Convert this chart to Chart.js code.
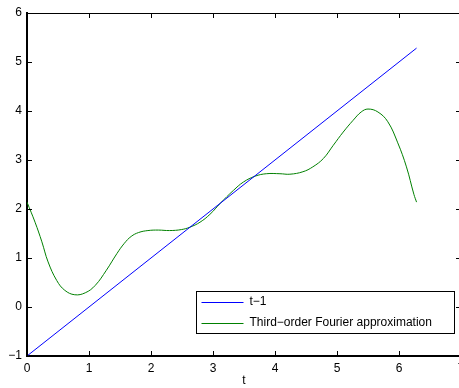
<!DOCTYPE html>
<html>
<head>
<meta charset="utf-8">
<script src="https://cdn.jsdelivr.net/npm/chart.js@4"></script>
<style>
  html, body { margin: 0; padding: 0; background: #fff; overflow: hidden; }
</style>
</head>
<body>
<canvas id="myChart" width="470" height="388"></canvas>
<script>
// data
const lineT = [0, 6.2832];
const lineY = [-1, 5.2832];

const fourierT = [0, 0.13, 0.24, 0.34, 0.48, 0.61, 0.77, 0.94, 1.10, 1.28, 1.45, 1.57, 1.68, 1.80, 1.95, 2.12, 2.30, 2.49, 2.63, 2.79,
  2.95, 3.12, 3.33, 3.49, 3.68, 3.86, 4.08, 4.24, 4.45, 4.61, 4.78, 4.94, 5.10, 5.26, 5.39, 5.50, 5.66, 5.82, 5.98, 6.12, 6.24, 6.2832];
const fourierY = [2.14, 1.73, 1.33, 0.92, 0.54, 0.34, 0.25, 0.29, 0.44, 0.75, 1.09, 1.30, 1.44, 1.52, 1.56, 1.57, 1.56, 1.58, 1.63, 1.73,
  1.89, 2.12, 2.38, 2.55, 2.67, 2.72, 2.72, 2.71, 2.76, 2.86, 3.03, 3.30, 3.57, 3.81, 3.98, 4.04, 3.98, 3.78, 3.35, 2.86, 2.30, 2.14];

const xTicks = [0, 1, 2, 3, 4, 5, 6, 7];
const yTicks = [-1, 0, 1, 2, 3, 4, 5, 6];

const seriesNames = ['t\u22121', 'Third\u2212order Fourier approximation'];
const seriesColors = ['#0000ff', '#008000'];

const toPoints = (xs, ys) => xs.map((v, i) => ({ x: v, y: ys[i] }));

const tickFont = { family: "'Liberation Sans', Arial, sans-serif", size: 12 };

// inward tick marks on all four sides, the box, and the legend inside the plot
const frameAndLegend = {
  id: 'frameAndLegend',
  afterDraw(chart) {
    const { ctx, chartArea: a, scales: { x, y } } = chart;
    ctx.save();
    ctx.strokeStyle = '#000';
    ctx.lineWidth = 1;
    ctx.beginPath();
    x.ticks.forEach(t => {
      const px = Math.round(x.getPixelForValue(t.value)) + 0.5;
      ctx.moveTo(px, a.bottom); ctx.lineTo(px, a.bottom - 5);
      ctx.moveTo(px, a.top); ctx.lineTo(px, a.top + 5);
    });
    y.ticks.forEach(t => {
      const py = Math.round(y.getPixelForValue(t.value)) + 0.5;
      ctx.moveTo(a.left, py); ctx.lineTo(a.left + 5, py);
      ctx.moveTo(a.right, py); ctx.lineTo(a.right - 5, py);
    });
    ctx.moveTo(a.left, a.top + 0.5); ctx.lineTo(a.right, a.top + 0.5);
    ctx.moveTo(a.right - 0.5, a.top); ctx.lineTo(a.right - 0.5, a.bottom);
    ctx.stroke();

    // legend box
    const bx = 196.5, by = 291.5, bw = 258, bh = 42;
    ctx.fillStyle = '#fff';
    ctx.fillRect(bx, by, bw, bh);
    ctx.strokeRect(bx, by, bw, bh);
    ctx.font = "12px 'Liberation Sans', Arial, sans-serif";
    ctx.textBaseline = 'middle';
    chart.data.datasets.forEach((ds, i) => {
      const cy = by + 10.5 + i * 21;
      ctx.strokeStyle = ds.borderColor;
      ctx.lineWidth = 1;
      ctx.beginPath();
      ctx.moveTo(bx + 5, Math.round(cy) + 0.5);
      ctx.lineTo(bx + 47, Math.round(cy) + 0.5);
      ctx.stroke();
      ctx.fillStyle = '#000';
      ctx.fillText(ds.label, bx + 53, cy);
    });
    ctx.restore();
  }
};

const config = {
  type: 'scatter',
  data: {
    datasets: [
      {
        label: seriesNames[0],
        data: toPoints(lineT, lineY),
        showLine: true,
        borderColor: seriesColors[0],
        borderWidth: 1,
        pointRadius: 0,
        fill: false
      },
      {
        label: seriesNames[1],
        data: toPoints(fourierT, fourierY),
        showLine: true,
        borderColor: seriesColors[1],
        borderWidth: 1,
        pointRadius: 0,
        tension: 0.4,
        fill: false
      }
    ]
  },
  options: {
    responsive: false,
    animation: false,
    layout: { padding: { top: 13, right: 9, left: 0, bottom: 0 } },
    plugins: { legend: { display: false }, tooltip: { enabled: false } },
    scales: {
      x: {
        type: 'linear',
        min: 0,
        max: 7,
        afterBuildTicks: s => { s.ticks = xTicks.map(v => ({ value: v })); },
        afterFit: s => { s.height = 32; },
        grid: { display: false, drawTicks: false },
        border: { display: true, color: '#000', width: 2 },
        ticks: { color: '#000', font: tickFont, padding: 5, maxRotation: 0 },
        title: { display: true, text: 't', color: '#000', font: tickFont, padding: { top: 0, bottom: 0 } }
      },
      y: {
        type: 'linear',
        min: -1,
        max: 6,
        afterBuildTicks: s => { s.ticks = yTicks.map(v => ({ value: v })); },
        afterFit: s => { s.width = 27; },
        grid: { display: false, drawTicks: false },
        border: { display: true, color: '#000', width: 2 },
        ticks: { color: '#000', font: tickFont, padding: 5, callback: v => String(v).replace('-', '\u2212') }
      }
    }
  },
  plugins: [frameAndLegend]
};

const myChart = new Chart(document.getElementById('myChart'), config);
</script>
</body>
</html>
